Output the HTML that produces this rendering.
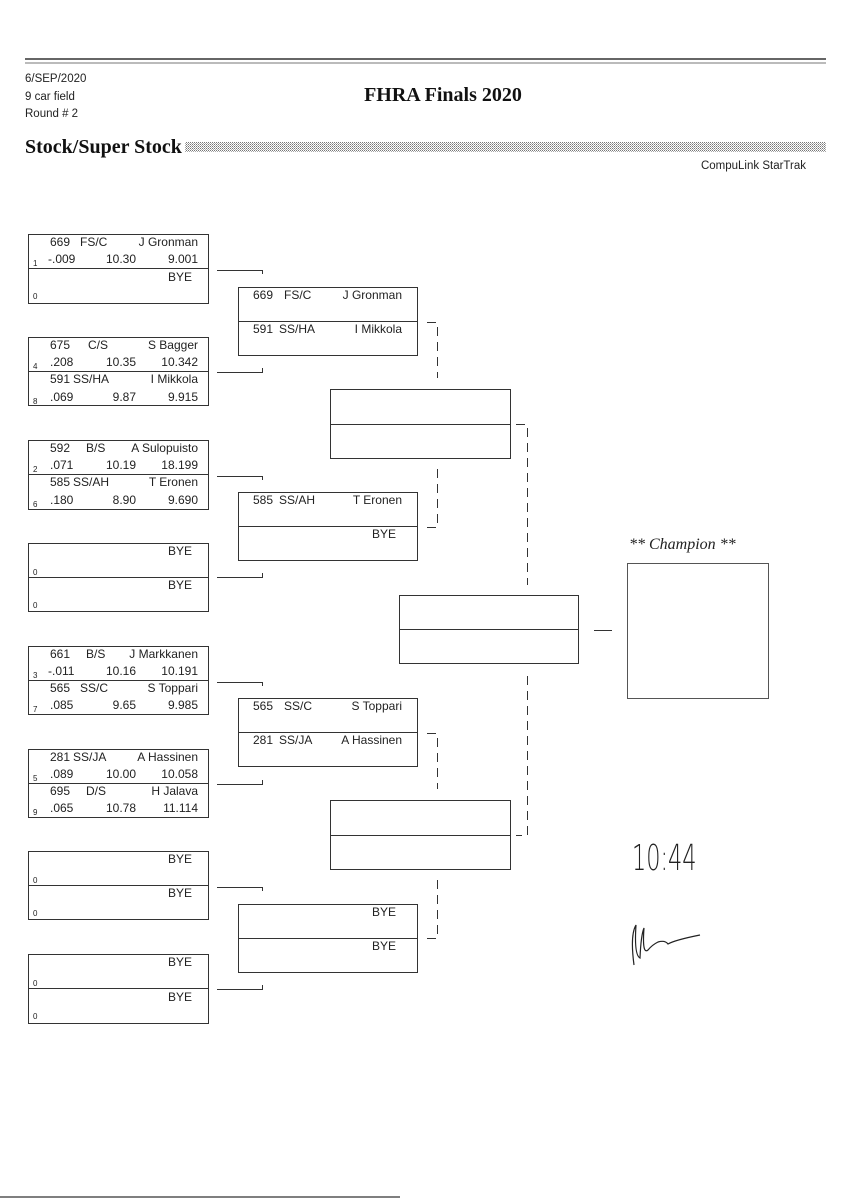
<!DOCTYPE html>
<html><head><meta charset="utf-8"><style>
html,body{margin:0;padding:0;background:#fff;}
svg{display:block}
.t{font-family:"Liberation Sans",sans-serif;font-size:12px;fill:#222;}
.s{font-family:"Liberation Sans",sans-serif;font-size:8px;fill:#222;}
</style></head><body>
<svg width="848" height="1200" viewBox="0 0 848 1200" xmlns="http://www.w3.org/2000/svg">
<defs>
<pattern id="dots" width="2" height="2" patternUnits="userSpaceOnUse"><rect width="1" height="1" fill="#777"/><rect x="1" y="1" width="1" height="1" fill="#aaa"/></pattern>
</defs>
<rect width="848" height="1200" fill="#fff"/>
<line x1="25" y1="59" x2="826" y2="59" stroke="#333" stroke-width="1.5"/>
<line x1="25" y1="63" x2="826" y2="63" stroke="#777" stroke-width="1"/>
<line x1="0" y1="1197" x2="400" y2="1197" stroke="#555" stroke-width="1.5"/>
<g font-family="Liberation Sans,sans-serif" font-size="11.5" fill="#222">
<text x="25" y="82">6/SEP/2020</text>
<text x="25" y="100">9 car field</text>
<text x="25" y="117">Round # 2</text>
<text x="806" y="169" text-anchor="end">CompuLink StarTrak</text>
</g>
<text x="443" y="101" text-anchor="middle" font-family="Liberation Serif,serif" font-weight="bold" font-size="20" fill="#111">FHRA Finals 2020</text>
<text x="25" y="153" font-family="Liberation Serif,serif" font-weight="bold" font-size="20" fill="#111">Stock/Super Stock</text>
<rect x="185" y="142" width="641" height="10" fill="url(#dots)"/>

<g fill="none" stroke="#333" stroke-width="1">
<rect x="28.5" y="234.5" width="180" height="69"/><line x1="28" y1="268.5" x2="208" y2="268.5"/>
<rect x="28.5" y="337.5" width="180" height="68"/><line x1="28" y1="371.5" x2="208" y2="371.5"/>
<rect x="28.5" y="440.5" width="180" height="69"/><line x1="28" y1="474.5" x2="208" y2="474.5"/>
<rect x="28.5" y="543.5" width="180" height="68"/><line x1="28" y1="577.5" x2="208" y2="577.5"/>
<rect x="28.5" y="646.5" width="180" height="68"/><line x1="28" y1="680.5" x2="208" y2="680.5"/>
<rect x="28.5" y="749.5" width="180" height="68"/><line x1="28" y1="783.5" x2="208" y2="783.5"/>
<rect x="28.5" y="851.5" width="180" height="68"/><line x1="28" y1="885.5" x2="208" y2="885.5"/>
<rect x="28.5" y="954.5" width="180" height="69"/><line x1="28" y1="988.5" x2="208" y2="988.5"/>
<rect x="238.5" y="287.5" width="179" height="68"/><line x1="238" y1="321.5" x2="417" y2="321.5"/>
<rect x="238.5" y="492.5" width="179" height="68"/><line x1="238" y1="526.5" x2="417" y2="526.5"/>
<rect x="238.5" y="698.5" width="179" height="68"/><line x1="238" y1="732.5" x2="417" y2="732.5"/>
<rect x="238.5" y="904.5" width="179" height="68"/><line x1="238" y1="938.5" x2="417" y2="938.5"/>
<rect x="330.5" y="389.5" width="180" height="69"/><line x1="330" y1="424.5" x2="510" y2="424.5"/>
<rect x="330.5" y="800.5" width="180" height="69"/><line x1="330" y1="835.5" x2="510" y2="835.5"/>
<rect x="399.5" y="595.5" width="179" height="68"/><line x1="399" y1="629.5" x2="578" y2="629.5"/>
<rect x="627.5" y="563.5" width="141" height="135" stroke="#555"/>
<line x1="594" y1="630.5" x2="612" y2="630.5"/>
<path d="M217 270.5H262.5V274"/><path d="M217 372.5H262.5V368"/>
<path d="M217 476.5H262.5V480"/><path d="M217 577.5H262.5V573"/>
<path d="M217 682.5H262.5V686"/><path d="M217 784.5H262.5V780"/>
<path d="M217 887.5H262.5V891"/><path d="M217 989.5H262.5V985"/>
<g stroke-dasharray="9,6">
<path d="M427 322.5H437.5V378"/><path d="M437.5 469V527.5H427"/>
<path d="M427 733.5H437.5V789"/><path d="M437.5 880V938.5H427"/>
<path d="M516 424.5H527.5V585"/><path d="M527.5 676V835.5H516"/>
</g>
</g>

<g class="t">
<text x="50" y="246">669</text><text x="80" y="246">FS/C</text><text x="198" y="246" text-anchor="end">J Gronman</text>
<text x="48" y="263">-.009</text><text x="136" y="263" text-anchor="end">10.30</text><text x="198" y="263" text-anchor="end">9.001</text>
<text x="192" y="281" text-anchor="end">BYE</text>

<text x="50" y="349">675</text><text x="88" y="349">C/S</text><text x="198" y="349" text-anchor="end">S Bagger</text>
<text x="50" y="366">.208</text><text x="136" y="366" text-anchor="end">10.35</text><text x="198" y="366" text-anchor="end">10.342</text>
<text x="50" y="383">591</text><text x="73" y="383">SS/HA</text><text x="198" y="383" text-anchor="end">I Mikkola</text>
<text x="50" y="401">.069</text><text x="136" y="401" text-anchor="end">9.87</text><text x="198" y="401" text-anchor="end">9.915</text>

<text x="50" y="452">592</text><text x="86" y="452">B/S</text><text x="198" y="452" text-anchor="end">A Sulopuisto</text>
<text x="50" y="469">.071</text><text x="136" y="469" text-anchor="end">10.19</text><text x="198" y="469" text-anchor="end">18.199</text>
<text x="50" y="486">585</text><text x="73" y="486">SS/AH</text><text x="198" y="486" text-anchor="end">T Eronen</text>
<text x="50" y="504">.180</text><text x="136" y="504" text-anchor="end">8.90</text><text x="198" y="504" text-anchor="end">9.690</text>

<text x="192" y="555" text-anchor="end">BYE</text><text x="192" y="589" text-anchor="end">BYE</text>

<text x="50" y="658">661</text><text x="86" y="658">B/S</text><text x="198" y="658" text-anchor="end">J Markkanen</text>
<text x="48" y="675">-.011</text><text x="136" y="675" text-anchor="end">10.16</text><text x="198" y="675" text-anchor="end">10.191</text>
<text x="50" y="692">565</text><text x="80" y="692">SS/C</text><text x="198" y="692" text-anchor="end">S Toppari</text>
<text x="50" y="709">.085</text><text x="136" y="709" text-anchor="end">9.65</text><text x="198" y="709" text-anchor="end">9.985</text>

<text x="50" y="761">281</text><text x="73" y="761">SS/JA</text><text x="198" y="761" text-anchor="end">A Hassinen</text>
<text x="50" y="778">.089</text><text x="136" y="778" text-anchor="end">10.00</text><text x="198" y="778" text-anchor="end">10.058</text>
<text x="50" y="795">695</text><text x="86" y="795">D/S</text><text x="198" y="795" text-anchor="end">H Jalava</text>
<text x="50" y="812">.065</text><text x="136" y="812" text-anchor="end">10.78</text><text x="198" y="812" text-anchor="end">11.114</text>

<text x="192" y="863" text-anchor="end">BYE</text><text x="192" y="897" text-anchor="end">BYE</text>
<text x="192" y="966" text-anchor="end">BYE</text><text x="192" y="1001" text-anchor="end">BYE</text>

<text x="253" y="299">669</text><text x="284" y="299">FS/C</text><text x="402" y="299" text-anchor="end">J Gronman</text>
<text x="253" y="333">591</text><text x="279" y="333">SS/HA</text><text x="402" y="333" text-anchor="end">I Mikkola</text>
<text x="253" y="504">585</text><text x="279" y="504">SS/AH</text><text x="402" y="504" text-anchor="end">T Eronen</text>
<text x="396" y="538" text-anchor="end">BYE</text>
<text x="253" y="710">565</text><text x="284" y="710">SS/C</text><text x="402" y="710" text-anchor="end">S Toppari</text>
<text x="253" y="744">281</text><text x="279" y="744">SS/JA</text><text x="402" y="744" text-anchor="end">A Hassinen</text>
<text x="396" y="916" text-anchor="end">BYE</text><text x="396" y="950" text-anchor="end">BYE</text>
</g>
<g class="s">
<text x="33" y="266">1</text><text x="33" y="299">0</text>
<text x="33" y="369">4</text><text x="33" y="404">8</text>
<text x="33" y="472">2</text><text x="33" y="507">6</text>
<text x="33" y="575">0</text><text x="33" y="608">0</text>
<text x="33" y="678">3</text><text x="33" y="712">7</text>
<text x="33" y="781">5</text><text x="33" y="815">9</text>
<text x="33" y="883">0</text><text x="33" y="916">0</text>
<text x="33" y="986">0</text><text x="33" y="1019">0</text>
</g>
<text x="629" y="549" font-family="Liberation Serif,serif" font-style="italic" font-size="16" fill="#222">** Champion **</text>
<text x="632" y="870" font-family="DejaVu Sans,sans-serif" font-weight="100" font-size="32" fill="#222" transform="translate(632 870) scale(0.7 1.1) translate(-632 -870)">10:44</text>
<path d="M634 965 Q630 935 636 925 Q634 955 640 958 Q641 935 644 928 Q642 955 648 950 Q652 945 658 942 Q665 940 668 944 Q675 940 700 935" fill="none" stroke="#222" stroke-width="1.2"/>
</svg>
</body></html>
